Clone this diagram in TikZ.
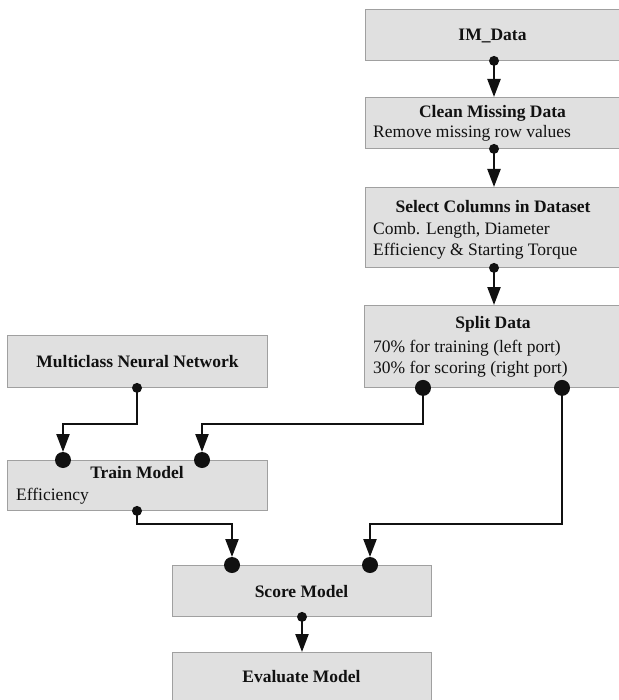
\documentclass[tikz,border=0pt]{standalone}
\usepackage{fontspec}
\setmainfont{Liberation Serif}
\usetikzlibrary{arrows.meta,calc}
\definecolor{boxfill}{HTML}{E0E0E0}
\definecolor{boxline}{HTML}{A0A0A0}
\definecolor{inkc}{HTML}{111111}
\begin{document}
\begin{tikzpicture}[x=1pt,y=-1pt,
  box/.style={draw=boxline, fill=boxfill, line width=0.9pt, anchor=north west, inner sep=0pt},
  ttl/.style={font=\fontsize{17.5}{21}\selectfont\bfseries, text=inkc, inner sep=0pt, text height=12pt, text depth=3.5pt},
  bdy/.style={font=\fontsize{17.5}{21}\selectfont, text=inkc, inner sep=0pt, text height=12pt, text depth=3.5pt, anchor=west},
  conn/.style={draw=inkc, line width=2.3pt, line join=miter, -{Triangle[length=18pt,width=13pt]}},
  sdot/.style={fill=inkc},
]
\useasboundingbox (0,0) rectangle (618,700);

% boxes
\node[box, minimum width=255pt, minimum height=51pt] (im) at (365,9) {};
\node[box, minimum width=255pt, minimum height=51pt] (clean) at (365,97) {};
\node[box, minimum width=255pt, minimum height=80pt] (select) at (365,187) {};
\node[box, minimum width=256pt, minimum height=82pt] (split) at (364,305) {};
\node[box, minimum width=260pt, minimum height=52pt] (mnn) at (7,335) {};
\node[box, minimum width=260pt, minimum height=50pt] (train) at (7,460) {};
\node[box, minimum width=259pt, minimum height=51pt] (score) at (172,565) {};
\node[box, minimum width=259pt, minimum height=52pt] (eval) at (172,652) {};

% texts
\node[ttl] (imT) at (492.5,36.5) {IM\_Data};
\node[ttl] (cleanT) at (492.5,113.5) {Clean Missing Data};
\node[bdy] (cleanB) at (373,133.5) {Remove missing row values};
\node[ttl] (selT) at (493,208.5) {Select Columns in Dataset};
\node[bdy] (selB1) at (373,230.5) {Comb. Length, Diameter};
\node[bdy] (selB2) at (373,251.5) {Efficiency \& Starting Torque};
\node[ttl] (splitT) at (493,324.5) {Split Data};
\node[bdy] (splitB1) at (373,348.5) {70\% for training (left port)};
\node[bdy] (splitB2) at (373,369.5) {30\% for scoring (right port)};
\node[ttl] (mnnT) at (137.5,363) {Multiclass Neural Network};
\node[ttl] (trainT) at (137,474.5) {Train Model};
\node[bdy] (trainB) at (16,496.5) {Efficiency};
\node[ttl] (scoreT) at (301.5,593) {Score Model};
\node[ttl] (evalT) at (301.5,678) {Evaluate Model};

% port x positions
\coordinate (cx) at (494,0);
\coordinate (xA) at (137,0);
\coordinate (xB) at (63,0);
\coordinate (xC) at (202,0);
\coordinate (xD) at (423,0);
\coordinate (xE) at (562,0);
\coordinate (xF) at (232,0);
\coordinate (xG) at (370,0);
\coordinate (xH) at (302,0);

% connectors
\draw[conn] (im.south -| cx) -- (clean.north -| cx);
\draw[conn] (clean.south -| cx) -- (select.north -| cx);
\draw[conn] (select.south -| cx) -- (split.north -| cx);
\draw[conn, shorten >=8pt] (mnn.south -| xA) -- ++(0,36) -| (train.north -| xB);
\draw[conn, shorten >=8pt] (split.south -| xD) -- ++(0,36) -| (train.north -| xC);
\draw[conn, shorten >=8pt] (split.south -| xE) -- ++(0,136) -| (score.north -| xG);
\draw[conn, shorten >=8pt] (train.south -| xA) -- ++(0,13) -| (score.north -| xF);
\draw[conn] (score.south -| xH) -- (eval.north -| xH);

% small dots
\foreach \p in {im.south -| cx, clean.south -| cx, select.south -| cx, mnn.south -| xA, train.south -| xA, score.south -| xH}
  \fill[sdot] (\p) circle (5pt);
% big dots
\foreach \p in {split.south -| xD, split.south -| xE, train.north -| xB, train.north -| xC, score.north -| xF, score.north -| xG}
  \fill[sdot] (\p) circle (8pt);
\end{tikzpicture}
\end{document}
